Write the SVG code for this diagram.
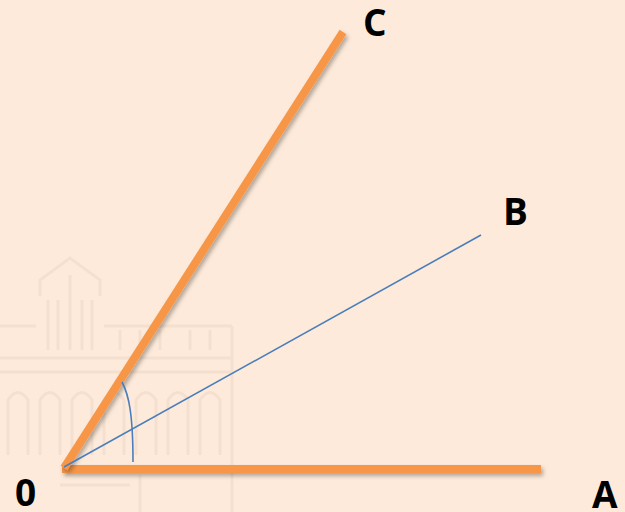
<svg xmlns="http://www.w3.org/2000/svg" width="625" height="512" viewBox="0 0 625 512">
  <defs>
    <style>
      .bg { fill: #FDEADA; }
      .wm { fill: none; stroke: #F3DDCD; stroke-width: 3; }
      .ray { fill: none; stroke: #F79646; stroke-width: 8; stroke-linecap: butt; }
      .thin { fill: none; stroke: #4A7EBB; stroke-width: 1.6; }
      .lbl { font-family: "Open Sans", "Noto Sans", "Liberation Sans", sans-serif; font-weight: bold; font-size: 37px; fill: #000; }
    </style>
    <filter id="sh" filterUnits="userSpaceOnUse" x="0" y="0" width="625" height="512">
      <feDropShadow dx="2" dy="3" stdDeviation="2" flood-color="#000" flood-opacity="0.3"/>
    </filter>
  </defs>
  <rect class="bg" x="0" y="0" width="625" height="512"/>
  <g id="watermark" opacity="0.75">
    <path class="wm" d="M40,296 L40,280 L70,258 L100,280 L100,296"/>
    <path class="wm" d="M48,350 V300 M58,350 V300 M70,350 V275 M82,350 V300 M92,350 V300"/>
    <path class="wm" d="M0,326 H36 M104,326 H232 M232,326 V512"/>
    <path class="wm" d="M0,358 H232 M0,372 H232"/>
    <path class="wm" d="M120,330 V350 M140,330 V350 M160,330 V350 M190,330 V350 M210,330 V350"/>
    <path class="wm" d="M8,455 V400 Q18,385 28,400 V455 M40,455 V400 Q50,385 60,400 V455 M72,455 V400 Q82,385 92,400 V455 M104,455 V400 Q114,385 124,400 V455 M136,455 V400 Q146,385 156,400 V455 M168,455 V400 Q178,385 188,400 V455 M200,455 V400 Q210,385 220,400 V455"/>
    <path class="wm" d="M140,475 V512 M60,485 H130"/>
  </g>
  <g id="connectors">
    <line id="OA" class="ray" x1="62" y1="469" x2="541" y2="469" filter="url(#sh)"/>
    <line id="OC" class="ray" x1="64" y1="468" x2="343" y2="32" filter="url(#sh)"/>
    <line id="OB" class="thin" x1="64" y1="467" x2="481" y2="235"/>
    <path id="angle-arc" class="thin" d="M122,382 C129,395 133,415 133,462"/>
  </g>
  <g id="label-O"><text class="lbl" x="15" y="506">0</text></g>
  <g id="label-A"><text class="lbl" x="592" y="508">A</text></g>
  <g id="label-B"><text class="lbl" x="503" y="225">B</text></g>
  <g id="label-C"><text class="lbl" x="363" y="36">C</text></g>
</svg>
